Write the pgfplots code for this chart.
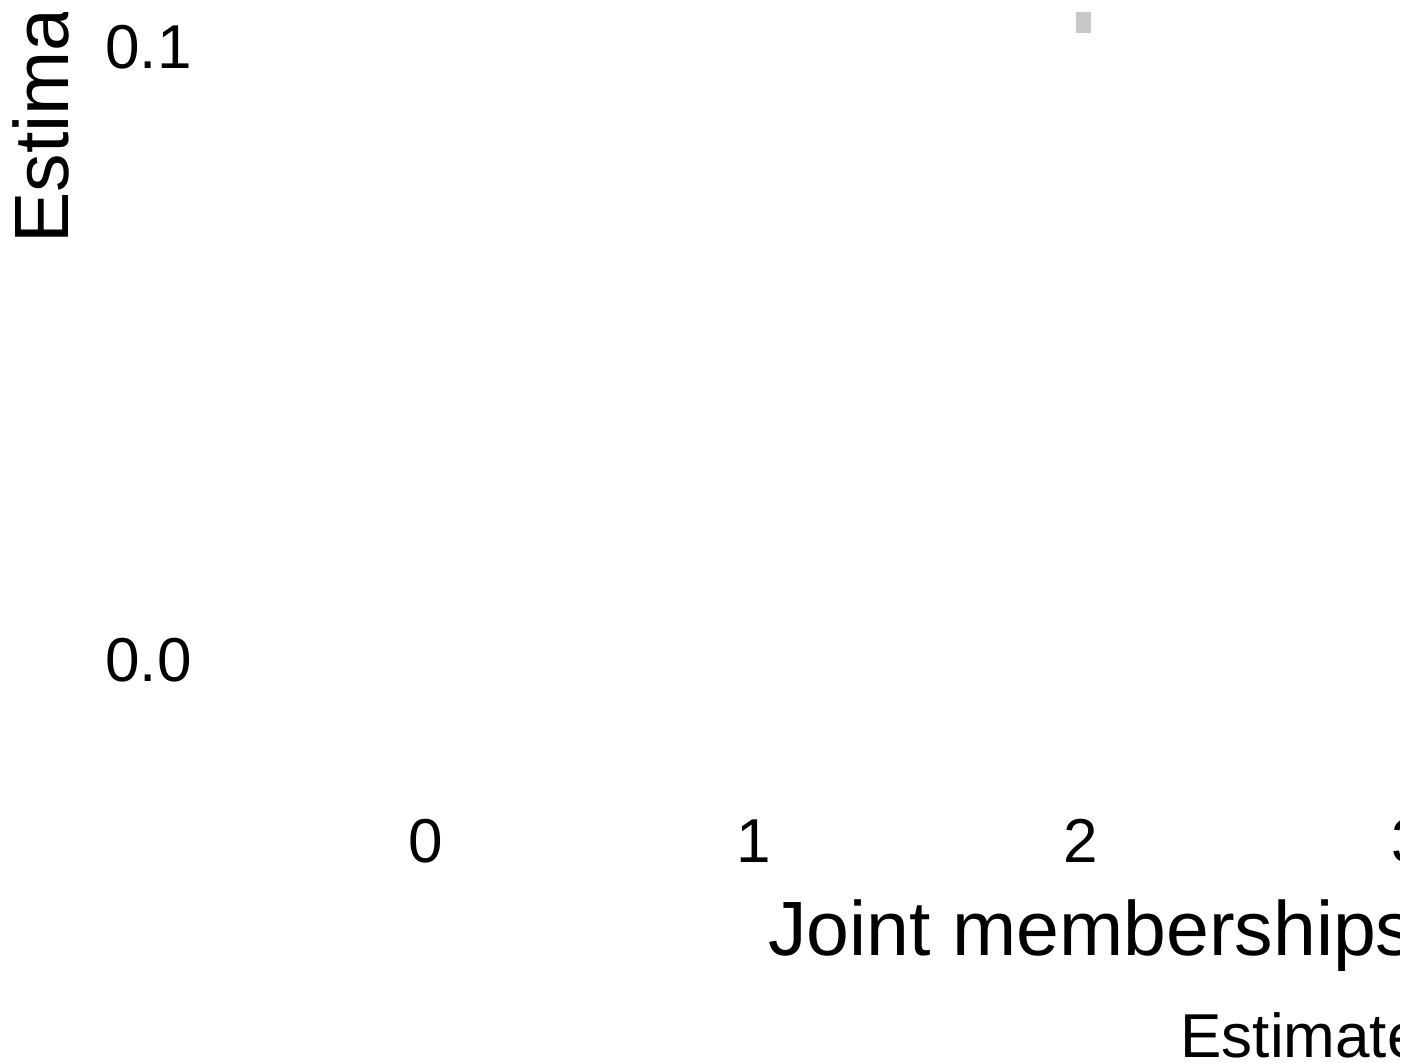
\documentclass[border=0pt]{standalone}
\usepackage{pgfplots}
\pgfplotsset{compat=1.18}
\usepackage{fontspec}
\setmainfont{Liberation Sans}
\definecolor{bargray}{RGB}{200,200,200}
\newcommand{\tickfont}{\fontsize{31}{31}\selectfont}
\newcommand{\labfont}{\fontsize{38.5}{38.5}\selectfont}
\begin{document}
% 1 unit = 1 px of the 1420x1062 reference, measured from the bottom
\begin{tikzpicture}[x=0.5pt,y=0.5pt]
\useasboundingbox (0,0) rectangle (1420,1062);
\clip (0,0) rectangle (1399,1049);
\begin{axis}[
    at={(114.75pt,131.8pt)}, anchor=south west,
    scale only axis,
    width=687.75pt, height=406.1pt,
    xmin=-0.6, xmax=3.6,
    ymin=-0.0225, ymax=0.11,
    axis line style={draw=none},
    major tick length=0pt,
    xtick={0,1,2,3},
    xticklabels={0,1,2,3},
    ytick={0,0.1},
    yticklabels={0.0,0.1},
    /pgf/number format/assume math mode=true,
    xticklabel style={font=\tickfont, anchor=base, inner sep=0pt, yshift=-31.8pt},
    yticklabel style={font=\tickfont, anchor=east, inner sep=0pt, xshift=-18.75pt},
    xlabel={Joint memberships},
    every axis x label/.style={at={(rel axis cs:0.3915,0)}, anchor=base west,
        inner sep=0pt, yshift=-78.3pt, font=\labfont},
    ylabel={Estimate},
    every axis y label/.style={at={(rel axis cs:-0.1174,0.6826)}, anchor=base west,
        rotate=90, inner sep=0pt, font=\labfont},
]
\addplot[fill=bargray, draw=none] coordinates {
    (1.9847,0.1024) (2.0305,0.1024) (2.0305,0.1080) (1.9847,0.1080)
} -- cycle;
\end{axis}
\node[anchor=base west, inner sep=0pt, font=\tickfont] at (1180,5) {Estimate};
\end{tikzpicture}
\end{document}
